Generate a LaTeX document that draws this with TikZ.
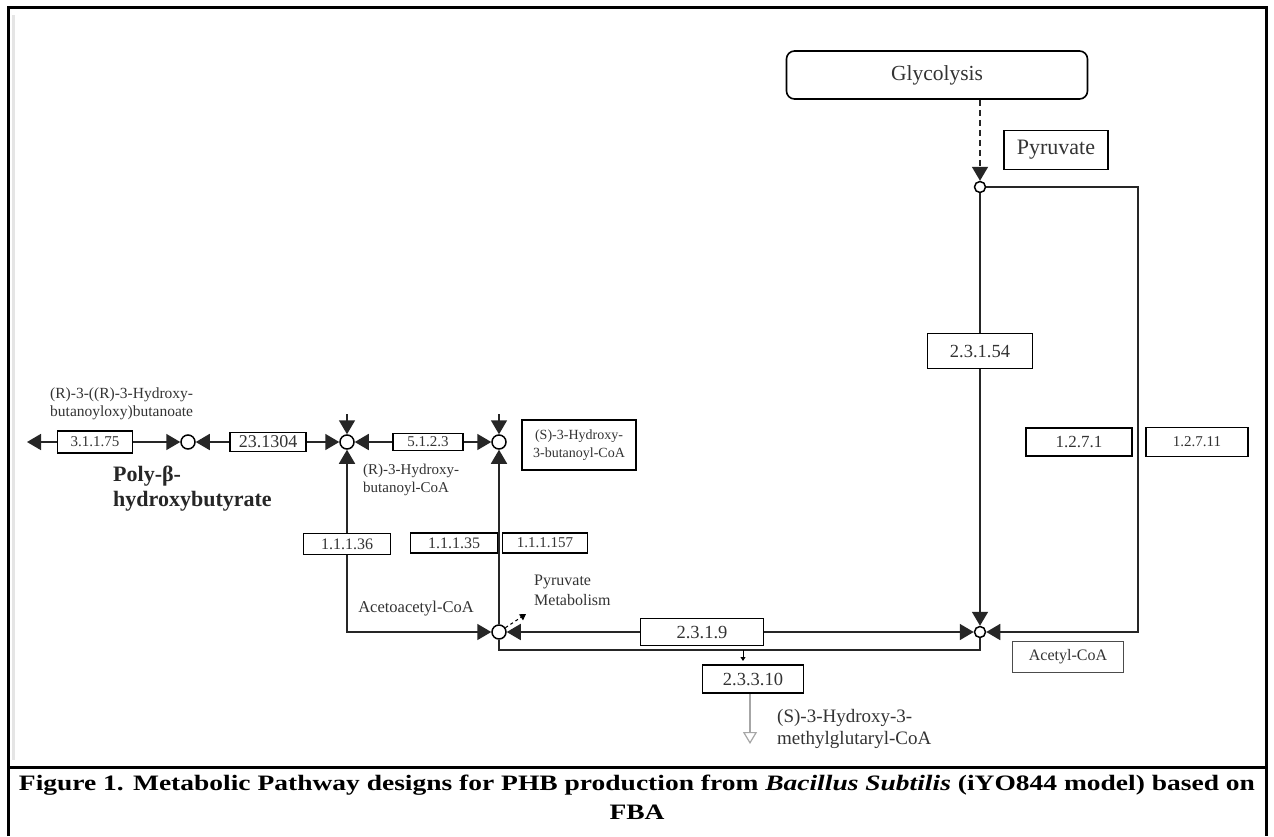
\documentclass[tikz,border=0pt]{standalone}
\usepackage{graphicx}
\usepackage{fontspec}
\setmainfont{Liberation Serif}
\usetikzlibrary{arrows.meta,positioning}
\newcommand\fsz[2]{\fontsize{#1}{#2}\selectfont}

\begin{document}
\begin{tikzpicture}[x=1pt,y=-1pt,
  enz/.style={draw, line width=1.6pt, fill=white, inner sep=0pt, text=black!80},
  jn/.style={circle, draw, line width=1.5pt, fill=white, inner sep=0pt, minimum size=14pt},
  jsmall/.style={jn, minimum size=11pt},
  lbl/.style={text=black!80, align=left, inner sep=0pt},
  flow/.style={line width=1.7pt, draw=black!85},
  >={Triangle[length=14pt,width=16pt]}]
		\useasboundingbox (0,0) rectangle (1274,836);
		\fill[white] (0,0) rectangle (1274,836);
		\draw[line width=3pt] (8,836) -- (8,7) -- (1266,7) -- (1266,836);
		\draw[line width=3pt] (8,767) -- (1266,767);
		\draw[line width=3pt, gray!20] (13,15) -- (13,760);

		\node[jn] (jP) at (188,442) {};
		\node[jn] (jR) at (347,442) {};
		\node[jn] (jS) at (499,442) {};
		\node[jn] (jAA) at (499,632) {};
		\node[jsmall] (jAc) at (980,632) {};
		\node[jsmall] (jPyr) at (980,187) {};
		\coordinate (phbEnd) at (27,442);
		\coordinate (rTop) at (347,414);
		\coordinate (sTop) at (499,414);
		\coordinate (rTurn) at (1138,632);
		\coordinate (loopR) at (980,650);
		\coordinate (loopL) at (499,650);
		\coordinate (tickA) at (743,650);
		\coordinate (tickB) at (743,661);
		\coordinate (hmgTip) at (750,744);
		\coordinate (pmTip) at (526,614);

		\node[enz, minimum width=75pt, minimum height=22pt, font=\fsz{15}{18}] (e31175) at (95,442) {3.1.1.75};
		\node[enz, minimum width=76pt, minimum height=19pt, font=\fsz{18}{19}] (e231304) at (268,442) {23.1304};
		\node[enz, minimum width=70pt, minimum height=17pt, font=\fsz{15}{17}] (e5123) at (428,442) {5.1.2.3};
		\node[enz, minimum width=87pt, minimum height=21pt, font=\fsz{16}{19}] (e11136) at (347,544) {1.1.1.36};
		\node[enz, minimum width=87pt, minimum height=20pt, font=\fsz{16}{19}] (e11135) at (454,543) {1.1.1.35};
		\node[enz, minimum width=85pt, minimum height=20pt, font=\fsz{15}{18}] (e111157) at (545,543) {1.1.1.157};
		\node[enz, minimum width=123pt, minimum height=27pt, font=\fsz{18.5}{21}] (e2319) at (702,632) {2.3.1.9};
		\node[enz, minimum width=101pt, minimum height=28pt, font=\fsz{18.5}{21}] (e23310) at (753,679) {2.3.3.10};
		\node[enz, minimum width=105pt, minimum height=35pt, font=\fsz{18.5}{21}] (e23154) at (980,351) {2.3.1.54};
		\node[enz, minimum width=106pt, minimum height=28pt, font=\fsz{17}{20}] (e1271) at (1079,442) {1.2.7.1};
		\node[enz, minimum width=102pt, minimum height=29pt, font=\fsz{15}{18}] (e12711) at (1197,442) {1.2.7.11};

		\node[draw, line width=1.6pt, rounded corners=8pt, minimum width=301pt, minimum height=48pt, font=\fsz{21.5}{24}, text=black!80] (glyco) at (937,75) {Glycolysis};
		\node[draw, line width=1.6pt, minimum width=104pt, minimum height=39pt, font=\fsz{22}{25}, text=black!80] (pyrLbl) at (1056,150) {Pyruvate};
		\node[draw=black!70, line width=0.8pt, minimum width=111pt, minimum height=31pt, font=\fsz{16}{20}, text=black!80] (acLbl) at (1068,657) {Acetyl-CoA};
		\node[draw, line width=1.6pt, align=center, minimum width=114pt, minimum height=50pt, font=\fsz{14}{18}, text=black!80] (shbLbl) at (579,445) {(S)-3-Hydroxy-\\3-butanoyl-CoA};
		\node[lbl, anchor=west, font=\fsz{15.5}{18}] (rrLbl) at (50,404) {(R)-3-((R)-3-Hydroxy-\\butanoyloxy)butanoate};
		\node[lbl, anchor=west, font=\bfseries\fsz{22}{25}, text=black!85] (phbLbl) at (113,489) {Poly-β-\\hydroxybutyrate};
		\node[lbl, anchor=west, font=\fsz{15}{18}] (rhbLbl) at (363,480) {(R)-3-Hydroxy-\\butanoyl-CoA};
		\node[lbl, font=\fsz{16.5}{20}] (aaLbl) at (416,609) {Acetoacetyl-CoA};
		\node[lbl, anchor=west, font=\fsz{16}{20}] (pmLbl) at (534,590) {Pyruvate\\Metabolism};
		\node[lbl, anchor=west, font=\fsz{19}{22}] (hmgLbl) at (777,729) {(S)-3-Hydroxy-3-\\methylglutaryl-CoA};
		\node[align=center, inner sep=0pt, font=\bfseries\fsz{22}{29}] (cap) at (637,797) {\scalebox{1.25}[1]{Figure 1. Metabolic Pathway designs for PHB production from \textit{Bacillus Subtilis} (iYO844 model) based on}\\\scalebox{1.25}[1]{FBA}};

		\draw[flow,->] (e31175) -- (phbEnd);
		\draw[flow,->] (e31175) -- (jP);
		\draw[flow,->] (e231304) -- (jP);
		\draw[flow,->] (e231304) -- (jR);
		\draw[flow,->] (e5123) -- (jR);
		\draw[flow,->] (e5123) -- (jS);
		\draw[flow,->] (rTop) -- (jR);
		\draw[flow,->] (sTop) -- (jS);
		\draw[flow,->] (e11136) -- (jR);
		\draw[flow,->] (e11136.south) |- (jAA);
		\draw[flow,->] (jAA) -- (jS);
		\draw[flow,->] (e2319) -- (jAA);
		\draw[flow,->] (e2319) -- (jAc);
		\draw[flow] (jPyr) -- (e23154);
		\draw[flow,->] (e23154) -- (jAc);
		\draw[flow,->] (jPyr) -| (rTurn) -- (jAc);
		\draw[flow,->,dash pattern=on 6pt off 4pt] (glyco.south -| jPyr) -- (jPyr);
		\draw[flow] (jAc) -- (loopR) -- (loopL) -- (jAA);
		\draw[line width=1pt, -{Triangle[length=4pt,width=5pt]}] (tickA) -- (tickB);
		\draw[line width=1.2pt, draw=gray!70, -{Triangle[open,length=12pt,width=14pt]}] (e23310.south -| hmgTip) -- (hmgTip);
		\draw[line width=1pt, dashed, -{Triangle[length=6pt,width=7pt]}] (jAA) -- (pmTip);
	\end{tikzpicture}
\end{document}
